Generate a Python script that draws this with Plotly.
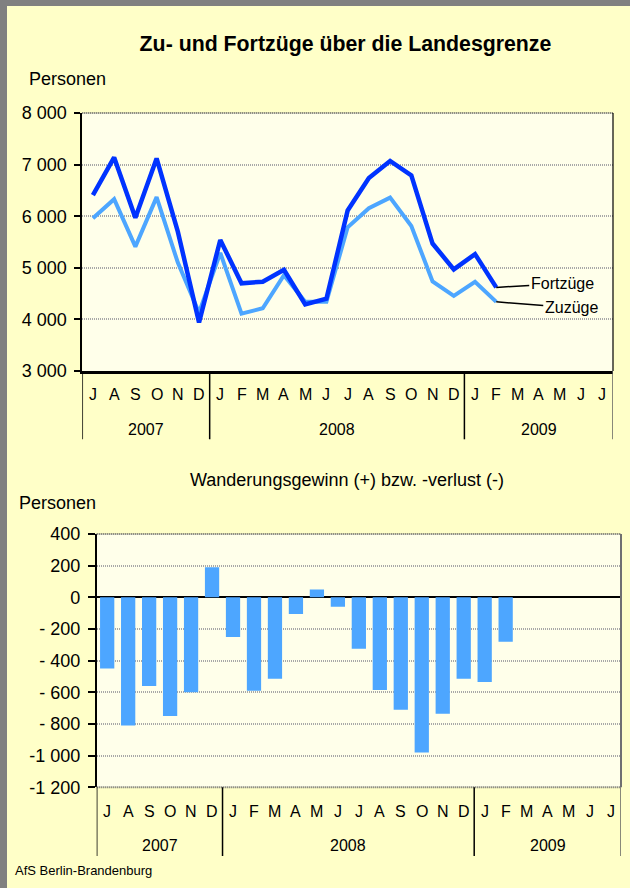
import plotly.graph_objects as go

# ---------------- data ----------------
months = ["J", "A", "S", "O", "N", "D",
          "J", "F", "M", "A", "M", "J", "J", "A", "S", "O", "N", "D",
          "J", "F", "M", "A", "M", "J", "J"]
years = ["2007", "2008", "2009"]
year_month_counts = [6, 12, 7]

fortzuege = [6410, 7140, 5970, 7120, 5700, 3940,
             5540, 4700, 4730, 4960, 4290, 4400, 6110, 6740, 7070, 6790, 5470, 4970,
             5265, 4620]
zuzuege = [5960, 6330, 5410, 6370, 5100, 4130,
           5290, 4110, 4215, 4855, 4340, 4340, 5785, 6155, 6360, 5810, 4735, 4455,
           4730, 4340]
saldo = [-450, -810, -560, -750, -600, 190,
         -250, -590, -515, -105, 50, -60, -325, -585, -710, -980, -735, -515,
         -535, -280]

top_tickvals = [3000, 4000, 5000, 6000, 7000, 8000]
top_ticktext = ["3 000", "4 000", "5 000", "6 000", "7 000", "8 000"]
bot_tickvals = [-1200, -1000, -800, -600, -400, -200, 0, 200, 400]
bot_ticktext = ["-1 200", "-1 000", "- 800", "- 600", "- 400", "- 200", "0", "200", "400"]

title_text = "Zu- und Fortzüge über die Landesgrenze"
subtitle_text = "Wanderungsgewinn (+) bzw. -verlust (-)"
unit_text = "Personen"
source_text = "AfS Berlin-Brandenburg"

# ---------------- styling helpers ----------------
W, H = 630, 888
FONT = "Liberation Sans, Arial, sans-serif"
PAPER = "#FFFFC8"
PLOT = "#FFFFEA"
DARK = "#0033FF"
LIGHT = "#4DA6FF"
GRID = "#A8A8A8"
GRIDDASH = "1px,1px"


def px(x):
    return x / W


def py(y):
    return 1 - y / H


n = len(months)
xs = list(range(n))

fig = go.Figure()

fig.add_trace(go.Scatter(x=xs[:len(zuzuege)], y=zuzuege, mode="lines",
                         line=dict(color=LIGHT, width=4), name="Zuzüge",
                         xaxis="x", yaxis="y"))
fig.add_trace(go.Scatter(x=xs[:len(fortzuege)], y=fortzuege, mode="lines",
                         line=dict(color=DARK, width=4.5), name="Fortzüge",
                         xaxis="x", yaxis="y"))
fig.add_trace(go.Bar(x=xs[:len(saldo)], y=saldo, marker=dict(color=LIGHT, line=dict(width=0)),
                     width=0.68, name="Saldo", xaxis="x2", yaxis="y2"))

axis_common = dict(range=[-0.5, n - 0.5], showgrid=False, zeroline=False,
                   showticklabels=False, ticks="", fixedrange=True)

fig.update_layout(
    width=W, height=H,
    margin=dict(l=0, r=0, t=0, b=0, autoexpand=False),
    paper_bgcolor=PAPER, plot_bgcolor=PLOT,
    showlegend=False,
    font=dict(family=FONT, color="black"),
    title=dict(text="<b>" + title_text + "</b>", x=px(345.5), y=py(44),
               xanchor="center", yanchor="middle",
               font=dict(family=FONT, size=21.3, color="black")),
    xaxis=dict(domain=[px(82.3), px(613)], anchor="y", showline=True,
               linecolor="black", linewidth=2.5, **axis_common),
    yaxis=dict(domain=[py(371), py(113)], anchor="x", range=[3000, 8000],
               tickvals=top_tickvals, ticktext=top_ticktext,
               showgrid=True, gridcolor=GRID, griddash=GRIDDASH, gridwidth=2,
               zeroline=False, showline=True, linecolor="black", linewidth=2,
               ticks="outside", ticklen=6, tickcolor="black", tickwidth=1.5,
               tickfont=dict(size=18, family=FONT, color="black"),
               ticklabelstandoff=4, automargin=False, fixedrange=True),
    xaxis2=dict(domain=[px(96.7), px(621)], anchor="y2", showline=False,
                **axis_common),
    yaxis2=dict(domain=[py(787.3), py(534)], anchor="x2", range=[-1200, 400],
                tickvals=bot_tickvals, ticktext=bot_ticktext,
                showgrid=True, gridcolor=GRID, griddash=GRIDDASH, gridwidth=2,
                zeroline=True, zerolinecolor="black", zerolinewidth=1.5,
                showline=True, linecolor="black", linewidth=1.5,
                ticks="outside", ticklen=7, tickcolor="black", tickwidth=1.5,
                tickfont=dict(size=18, family=FONT, color="black"),
                ticklabelstandoff=4, automargin=False, fixedrange=True),
)

shapes = []
# grey frame (top and left)
shapes.append(dict(type="rect", xref="paper", yref="paper", x0=0, x1=px(7), y0=0, y1=1,
                   fillcolor="#808080", line=dict(width=0), layer="above"))
shapes.append(dict(type="rect", xref="paper", yref="paper", x0=0, x1=1, y0=py(6), y1=1,
                   fillcolor="#808080", line=dict(width=0), layer="above"))

# plot borders
shapes.append(dict(type="line", xref="x domain", yref="y domain", x0=0, x1=1, y0=1, y1=1,
                   line=dict(color="#606060", width=2, dash=GRIDDASH)))
shapes.append(dict(type="line", xref="x domain", yref="y domain", x0=1, x1=1, y0=0, y1=1,
                   line=dict(color="black", width=1.2)))
shapes.append(dict(type="line", xref="x2 domain", yref="y2 domain", x0=0, x1=1, y0=1, y1=1,
                   line=dict(color="#606060", width=2, dash=GRIDDASH)))
shapes.append(dict(type="line", xref="x2 domain", yref="y2 domain", x0=0, x1=1, y0=0, y1=0,
                   line=dict(color="#606060", width=2, dash=GRIDDASH)))
shapes.append(dict(type="line", xref="x2 domain", yref="y2 domain", x0=1, x1=1, y0=0, y1=1,
                   line=dict(color="#707070", width=2)))

# year dividers below axes
bounds = [-0.5]
for c in year_month_counts:
    bounds.append(bounds[-1] + c)
for xa, ytop, ybot in (("x", 371, 439.3), ("x2", 787.3, 856)):
    for b in bounds:
        col = "black" if b < bounds[-1] else "#606060"
        shapes.append(dict(type="line", xref=xa, yref="paper", x0=b, x1=b,
                           y0=py(ytop), y1=py(ybot), line=dict(color=col, width=1.5)))

fig.update_layout(shapes=shapes)

ann = []
# month letters and years
for xa, ym, yy in (("x", 394.3, 429), ("x2", 811.7, 845.7)):
    for i, m in enumerate(months):
        ann.append(dict(x=i, xref=xa, y=py(ym), yref="paper", text=m, showarrow=False,
                        xanchor="center", yanchor="middle",
                        font=dict(size=16, family=FONT, color="black")))
    for k, yr in enumerate(years):
        cx = (bounds[k] + bounds[k + 1]) / 2
        ann.append(dict(x=cx, xref=xa, y=py(yy), yref="paper", text=yr, showarrow=False,
                        xanchor="center", yanchor="middle",
                        font=dict(size=16, family=FONT, color="black")))

# unit labels
ann.append(dict(x=px(27), y=py(79), xref="paper", yref="paper", text=unit_text,
                showarrow=False, xanchor="left", yanchor="middle",
                font=dict(size=18, family=FONT, color="black")))
ann.append(dict(x=px(16.5), y=py(503), xref="paper", yref="paper", text=unit_text,
                showarrow=False, xanchor="left", yanchor="middle",
                font=dict(size=18, family=FONT, color="black")))
# subtitle
ann.append(dict(x=px(346.6), y=py(480), xref="paper", yref="paper", text=subtitle_text,
                showarrow=False, xanchor="center", yanchor="middle",
                font=dict(size=18, family=FONT, color="black")))
# source
ann.append(dict(x=px(13), y=py(870), xref="paper", yref="paper", text=source_text,
                showarrow=False, xanchor="left", yanchor="middle",
                font=dict(size=13, family=FONT, color="black")))

# series labels with leader lines
last = len(fortzuege) - 1
ann.append(dict(x=last, y=fortzuege[last], xref="x", yref="y", text="Fortzüge",
                showarrow=True, arrowhead=0, arrowwidth=1.5, arrowcolor="black",
                ax=66, ay=-4, standoff=0,
                font=dict(size=16, family=FONT, color="black")))
ann.append(dict(x=last, y=zuzuege[last], xref="x", yref="y", text="Zuzüge",
                showarrow=True, arrowhead=0, arrowwidth=1.5, arrowcolor="black",
                ax=75, ay=6, standoff=0,
                font=dict(size=16, family=FONT, color="black")))

fig.update_layout(annotations=ann)

fig.write_html("out.html", config={"displayModeBar": False},
               post_script="document.body.style.margin='0';document.body.style.overflow='hidden';")
